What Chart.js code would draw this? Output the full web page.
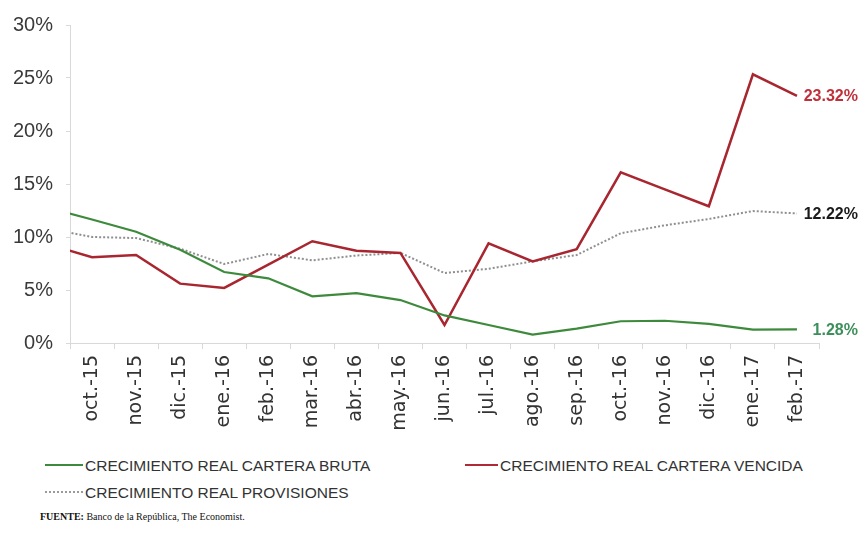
<!DOCTYPE html>
<html lang="es">
<head>
    <meta charset="UTF-8">
    <title>Crecimiento real cartera</title>
    <script src="https://cdn.jsdelivr.net/npm/chart.js@4.4.1/dist/chart.umd.min.js"></script>
    <style>
        body {
            margin: 0;
            padding: 0;
            background: #ffffff;
            font-family: Arial, "Liberation Sans", sans-serif;
        }
        .wrap {
            position: relative;
            width: 862px;
            height: 539px;
        }
        .chart-box {
            position: absolute;
            left: 0;
            top: 0;
            width: 862px;
            height: 445px;
        }
        .legend-item {
            position: absolute;
            font-size: 15.5px;
            color: #333;
            line-height: 18px;
            white-space: nowrap;
        }
        .legend-item .swatch {
            display: inline-block;
            vertical-align: middle;
            margin-right: 2px;
            position: relative;
            top: -2px;
        }
        .source {
            position: absolute;
            left: 40px;
            top: 511px;
            font-family: "Liberation Serif", "Times New Roman", serif;
            font-size: 10px;
            color: #111;
        }
    </style>
</head>
<body>
<div class="wrap">
    <div class="chart-box"><canvas id="chart"></canvas></div>

    <div class="legend-item" style="left:45px; top:457px;">
        <span class="swatch" style="width:38px; border-top:2px solid #3d8a3d;"></span>CRECIMIENTO REAL CARTERA BRUTA
    </div>
    <div class="legend-item" style="left:465px; top:457px;">
        <span class="swatch" style="width:33px; border-top:2px solid #b02a36;"></span>CRECIMIENTO REAL CARTERA VENCIDA
    </div>
    <div class="legend-item" style="left:45px; top:484px;">
        <span class="swatch" style="width:38px; border-top:2px dotted #9a9a9a;"></span>CRECIMIENTO REAL PROVISIONES
    </div>

    <div class="source"><b>FUENTE:</b> Banco de la República, The Economist.</div>
</div>

<script>
    // months; the first one (sep.-15) only feeds the line stub at the left edge
    const months = ['sep.-15', 'oct.-15', 'nov.-15', 'dic.-15', 'ene.-16', 'feb.-16', 'mar.-16',
        'abr.-16', 'may.-16', 'jun.-16', 'jul.-16', 'ago.-16', 'sep.-16', 'oct.-16',
        'nov.-16', 'dic.-16', 'ene.-17', 'feb.-17'];

    // real growth, %
    const carteraBruta = [12.75, 11.65, 10.5, 8.8, 6.7, 6.1, 4.4, 4.7, 4.05, 2.6,
        1.7, 0.8, 1.35, 2.05, 2.1, 1.8, 1.27, 1.28];
    const carteraVencida = [9.3, 8.1, 8.3, 5.6, 5.2, 7.4, 9.6, 8.7, 8.5, 1.7,
        9.4, 7.7, 8.85, 16.1, 14.5, 12.9, 25.35, 23.32];
    const provisiones = [10.8, 10.0, 9.9, 8.9, 7.45, 8.4, 7.8, 8.25, 8.5, 6.6,
        7.0, 7.7, 8.3, 10.35, 11.1, 11.7, 12.45, 12.22];

    const yTicks = [0, 5, 10, 15, 20, 25, 30];

    const toPoints = arr => arr.map((v, i) => ({ x: i, y: v }));

    // label with the last value, to the right of each line
    const endLabels = {
        id: 'endLabels',
        afterDatasetsDraw(chart) {
            const ctx = chart.ctx;
            ctx.save();
            ctx.font = 'bold 16px Arial, "Liberation Sans", sans-serif';
            ctx.textAlign = 'right';
            ctx.textBaseline = 'middle';
            chart.data.datasets.forEach((ds, i) => {
                const meta = chart.getDatasetMeta(i);
                const last = meta.data[meta.data.length - 1];
                const val = ds.data[ds.data.length - 1].y;
                ctx.fillStyle = ds.labelColor;
                ctx.fillText(val.toFixed(2) + '%', last.x + 61, last.y + 1);
            });
            ctx.restore();
        }
    };

    const axisGray = '#d9d9d9';

    new Chart(document.getElementById('chart'), {
        type: 'line',
        data: {
            datasets: [
                {
                    label: 'CRECIMIENTO REAL CARTERA BRUTA',
                    data: toPoints(carteraBruta),
                    borderColor: '#3d8a3d',
                    borderWidth: 2.2,
                    labelColor: '#3c8f5a'
                },
                {
                    label: 'CRECIMIENTO REAL CARTERA VENCIDA',
                    data: toPoints(carteraVencida),
                    borderColor: '#a8262f',
                    borderWidth: 2.5,
                    labelColor: '#c0303a'
                },
                {
                    label: 'CRECIMIENTO REAL PROVISIONES',
                    data: toPoints(provisiones),
                    borderColor: '#8f8f8f',
                    borderWidth: 2,
                    borderDash: [2, 2],
                    labelColor: '#1a1a1a'
                }
            ]
        },
        options: {
            responsive: true,
            maintainAspectRatio: false,
            animation: false,
            layout: { padding: { left: 0, right: 43, top: 20, bottom: 0 } },
            elements: {
                point: { radius: 0 },
                line: { tension: 0 }
            },
            plugins: {
                legend: { display: false },
                tooltip: { enabled: false }
            },
            scales: {
                x: {
                    type: 'linear',
                    min: 0.5,
                    max: 17.5,
                    afterBuildTicks(scale) {
                        scale.ticks = months.slice(1).map((m, i) => ({ value: i + 1 }));
                    },
                    afterFit(scale) {
                        scale.height = 102;
                    },
                    grid: {
                        offset: true,
                        drawOnChartArea: false,
                        tickLength: 6,
                        color: axisGray
                    },
                    border: { color: axisGray },
                    ticks: {
                        minRotation: 90,
                        maxRotation: 90,
                        padding: 6,
                        color: '#333',
                        font: { family: '"DejaVu Sans", Arial, sans-serif', size: 19 },
                        callback: v => months[v]
                    }
                },
                y: {
                    min: 0,
                    max: 30,
                    afterBuildTicks(scale) {
                        scale.ticks = yTicks.map(v => ({ value: v }));
                    },
                    afterFit(scale) {
                        scale.width = 70;
                    },
                    grid: {
                        drawOnChartArea: false,
                        tickLength: 4,
                        color: axisGray
                    },
                    border: { color: axisGray },
                    ticks: {
                        padding: 13,
                        color: '#3a3a3a',
                        font: { family: 'Arial, "Liberation Sans", sans-serif', size: 20 },
                        callback: v => v + '%'
                    }
                }
            }
        },
        plugins: [endLabels]
    });
</script>
</body>
</html>
